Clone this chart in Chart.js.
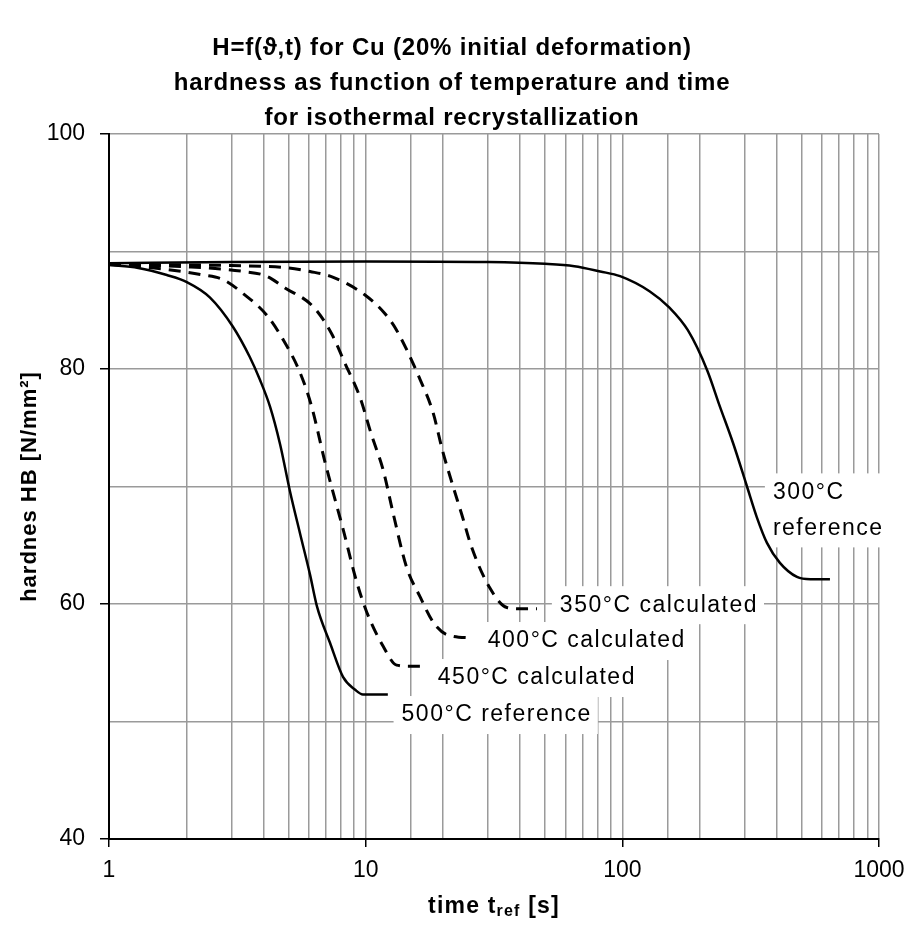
<!DOCTYPE html>
<html><head><meta charset="utf-8">
<script src="https://cdn.jsdelivr.net/npm/chart.js@4"></script>
<style>html,body{margin:0;padding:0;background:#fff}#wrap{width:905px;height:926px}</style>
</head><body><div id="wrap"><canvas id="c" width="905" height="926"></canvas></div>
<script>
// ---- data (time in s, hardness HB in N/mm²) ----
const t300 = [1, 3, 10, 30, 50, 65, 82, 98, 128, 153, 180, 214, 240, 270, 306, 334, 366, 411, 479, 540, 644];
const h300 = [89.0, 89.1, 89.15, 89.1, 88.95, 88.75, 88.3, 87.9, 86.6, 85.2, 83.3, 79.9, 76.8, 73.7, 70.0, 67.4, 65.2, 63.5, 62.3, 62.1, 62.1];
const t350 = [1, 3, 5.0, 6.07, 7.48, 9.94, 11.9, 13.2, 16.3, 18.3, 19.9, 21.7, 23.7, 25.9, 30.4, 35.5, 40, 46.5];
const h350 = [88.9, 88.8, 88.6, 88.3, 87.8, 86.3, 84.7, 83.3, 79.1, 76.3, 73.1, 70.3, 67.6, 64.8, 61.4, 59.7, 59.6, 59.6];
const t400 = [1, 2, 3.34, 4.11, 4.85, 6.25, 7.37, 8.30, 9.50, 10.5, 11.7, 12.8, 14.4, 16.3, 18.4, 20.7, 26.3];
const h400 = [88.9, 88.7, 88.3, 87.9, 86.9, 85.3, 83.0, 80.5, 77.6, 74.5, 71.4, 67.7, 63.2, 60.6, 58.4, 57.4, 57.1];
const t450 = [1, 1.5, 2.33, 2.79, 3.34, 4.11, 4.77, 5.55, 6.16, 6.94, 8.18, 9.22, 10.1, 11.7, 13.2, 15, 17.3];
const h450 = [88.9, 88.6, 88.0, 87.6, 86.4, 84.6, 82.5, 79.7, 76.8, 72.1, 66.3, 61.9, 59.3, 56.4, 54.8, 54.7, 54.7];
const t500 = [1, 1.3, 1.68, 2.01, 2.47, 3.04, 3.54, 3.87, 4.24, 4.64, 5.07, 5.55, 6.07, 6.46, 7.26, 8.16, 9.1, 9.76, 12.2];
const h500 = [88.85, 88.6, 88.0, 87.4, 86.1, 83.6, 81.0, 79.1, 76.8, 73.6, 69.6, 66.0, 62.5, 59.8, 56.7, 53.8, 52.7, 52.3, 52.3];

const seriesNames = ['300°C reference', '350°C calculated', '400°C calculated', '450°C calculated', '500°C reference'];
const xTickLabels = ['1', '10', '100', '1000'];
const yTickLabels = ['40', '60', '80', '100'];

const titleLines = ['H=f(\u03D1,t) for Cu (20% initial deformation)', 'hardness as function of temperature and time', 'for isothermal recrystallization'];

// curve labels: text lines, anchor (time, hardness) of first line's left/middle
const labelTexts = [['350°C calculated'], ['400°C calculated'], ['450°C calculated'], ['500°C reference'], ['300°C', 'reference']];
const labelT = [57.1, 29.9, 19.1, 13.8, 386];
const labelH = [59.9, 56.85, 53.7, 50.55, 69.5];

const FONT = '"Liberation Sans", Arial, sans-serif';
const pts = (t, h) => t.map((v, i) => ({x: v, y: h[i]}));
const isPow10 = v => Math.abs(Math.log10(v) - Math.round(Math.log10(v))) < 1e-9;

const solid = {borderColor: '#000', borderWidth: 2.5, pointRadius: 0, fill: false, cubicInterpolationMode: 'monotone'};
const dashed = Object.assign({}, solid, {borderWidth: 3, borderDash: [12, 8]});

const annotPlugin = {
  id: 'annot',
  beforeDatasetsDraw(chart) {
    const ctx = chart.ctx, xs = chart.scales.x, ys = chart.scales.y;
    ctx.save();
    ctx.font = '23px ' + FONT;
    ctx.letterSpacing = '1.5px';
    ctx.textBaseline = 'middle';
    ctx.textAlign = 'left';
    labelTexts.forEach((lines, i) => {
      const px = xs.getPixelForValue(labelT[i]);
      const py = ys.getPixelForValue(labelH[i]);
      const lh = 36;
      const w = Math.max(...lines.map(l => ctx.measureText(l).width));
      ctx.fillStyle = '#fff';
      ctx.fillRect(px - 8, py - 19, w + 14, lines.length * lh + 2);
      ctx.fillStyle = '#000';
      lines.forEach((l, j) => ctx.fillText(l, px, py + j * lh));
    });
    ctx.restore();
  },
  afterDraw(chart) {
    const ctx = chart.ctx, ca = chart.chartArea;
    ctx.save();
    ctx.fillStyle = '#000';
    ctx.textAlign = 'center';
    ctx.textBaseline = 'middle';
    ctx.font = 'bold 24px ' + FONT;
    ctx.letterSpacing = '0.8px';
    titleLines.forEach((l, i) => ctx.fillText(l, 452, 48 + i * 35));
    // x-axis title with subscript
    ctx.letterSpacing = '1.2px';
    const F1 = 'bold 23px ' + FONT, F2 = 'bold 16px ' + FONT;
    const p1 = 'time t', p3 = ' [s]';
    ctx.textAlign = 'left';
    ctx.font = F1;
    const w1 = ctx.measureText(p1).width, w3 = ctx.measureText(p3).width;
    ctx.font = F2;
    const w2 = ctx.measureText('ref').width;
    const cx = (ca.left + ca.right) / 2;
    const x0 = cx - (w1 + w2 + w3) / 2;
    const y0 = 907;
    ctx.font = F1;
    ctx.fillText(p1, x0, y0);
    ctx.font = F2;
    ctx.fillText('ref', x0 + w1, y0 + 5);
    ctx.font = F1;
    ctx.fillText(p3, x0 + w1 + w2, y0);
    // y-axis title
    ctx.letterSpacing = '1px';
    ctx.font = 'bold 22px ' + FONT;
    ctx.translate(30, (ca.top + ca.bottom) / 2);
    ctx.rotate(-Math.PI / 2);
    ctx.textAlign = 'center';
    ctx.fillText('hardnes HB [N/mm\u00B2]', 0, 0);
    ctx.restore();
  }
};

new Chart(document.getElementById('c'), {
  type: 'line',
  data: {
    datasets: [
      Object.assign({label: seriesNames[0], data: pts(t300, h300)}, solid),
      Object.assign({label: seriesNames[1], data: pts(t350, h350)}, dashed),
      Object.assign({label: seriesNames[2], data: pts(t400, h400)}, dashed),
      Object.assign({label: seriesNames[3], data: pts(t450, h450)}, dashed),
      Object.assign({label: seriesNames[4], data: pts(t500, h500)}, solid)
    ]
  },
  options: {
    responsive: false,
    animation: false,
    layout: {padding: {top: 134, right: 26, bottom: 0, left: 0}},
    plugins: {legend: {display: false}, tooltip: {enabled: false}, title: {display: false}},
    scales: {
      x: {
        type: 'logarithmic', min: 1, max: 1000,
        afterFit: s => { s.height = 87; s.paddingRight = 0; s.paddingLeft = 0; },
        border: {color: '#000', width: 2},
        grid: {
          color: '#9a9a9a', lineWidth: 1.5, tickLength: 8,
          tickColor: c => (c.tick && isPow10(c.tick.value)) ? '#000' : 'rgba(0,0,0,0)',
          tickWidth: 1.5
        },
        ticks: {
          autoSkip: false, maxRotation: 0, padding: 10, color: '#000',
          font: {family: FONT, size: 23},
          callback: v => isPow10(v) ? (xTickLabels.includes(String(Math.round(v))) ? String(Math.round(v)) : '') : ''
        }
      },
      y: {
        min: 40, max: 100,
        afterFit: s => { s.width = 109; s.paddingTop = 0; s.paddingBottom = 0; },
        border: {color: '#000', width: 2},
        grid: {
          color: '#9a9a9a', lineWidth: 1.5, tickLength: 9,
          tickColor: c => (c.tick && c.tick.value % 20 === 0) ? '#000' : 'rgba(0,0,0,0)',
          tickWidth: 1.5
        },
        ticks: {
          stepSize: 10, padding: 15, color: '#000',
          font: {family: FONT, size: 23},
          callback: v => yTickLabels.includes(String(v)) ? String(v) : ''
        }
      }
    }
  },
  plugins: [annotPlugin]
});
</script></body></html>
